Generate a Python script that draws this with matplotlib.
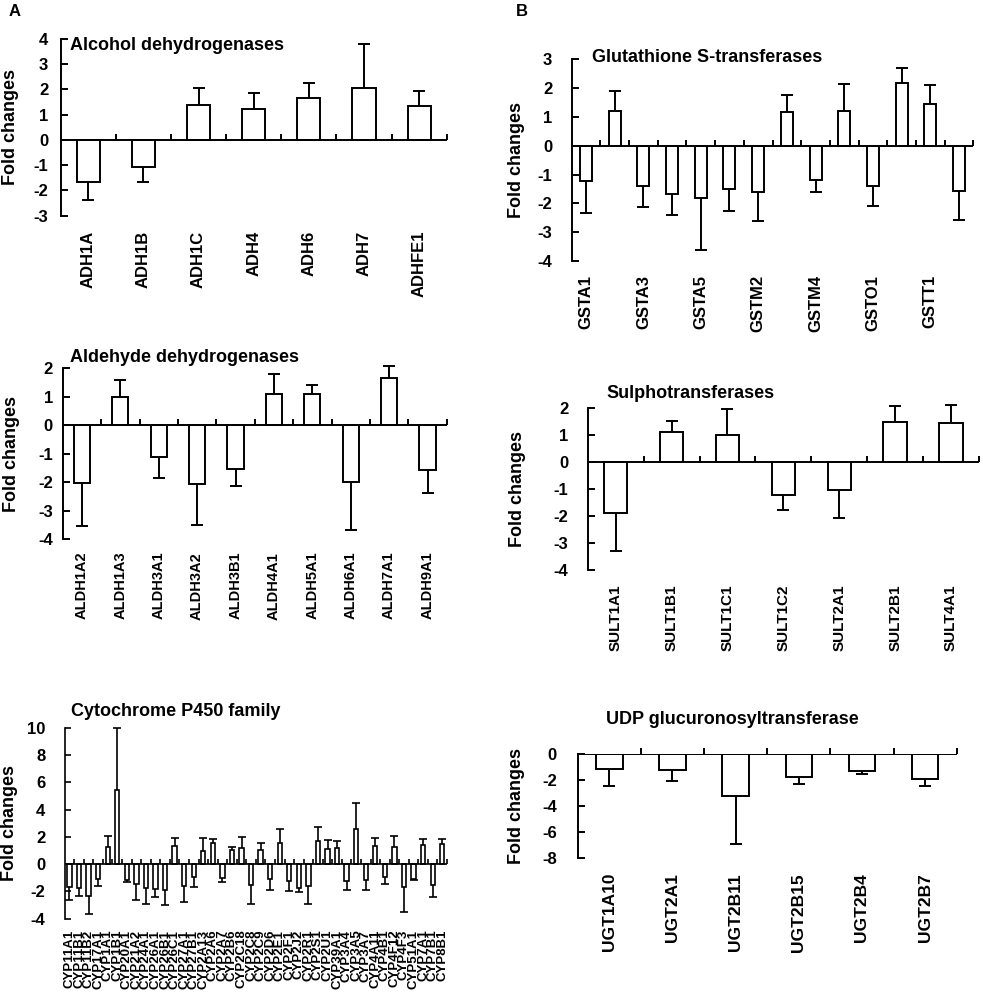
import matplotlib
matplotlib.use("Agg")
import matplotlib.pyplot as plt
import numpy as np

W, H = 983, 993

plt.rcParams["font.family"] = ["Liberation Sans", "DejaVu Sans"]
plt.rcParams["font.weight"] = "bold"

# --- A: alcohol dehydrogenases ---
ADH_GENES = ["ADH1A", "ADH1B", "ADH1C", "ADH4", "ADH6", "ADH7", "ADHFE1"]
ADH_FOLD = [-1.68, -1.08, 1.38, 1.23, 1.65, 2.06, 1.34]
ADH_SD = [0.69, 0.60, 0.68, 0.62, 0.61, 1.75, 0.59]

# --- A: aldehyde dehydrogenases ---
ALDH_GENES = ["ALDH1A2", "ALDH1A3", "ALDH3A1", "ALDH3A2", "ALDH3B1",
              "ALDH4A1", "ALDH5A1", "ALDH6A1", "ALDH7A1", "ALDH9A1"]
ALDH_FOLD = [-2.01, 1.01, -1.10, -2.06, -1.54, 1.09, 1.11, -2.00, 1.65, -1.57]
ALDH_SD = [1.51, 0.57, 0.74, 1.44, 0.60, 0.72, 0.31, 1.67, 0.43, 0.82]

# --- A: cytochrome P450 ---
CYP_GENES = ["CYP11A1", "CYP11B1", "CYP11B2", "CYP17A1", "CYP1A1", "CYP1B1",
             "CYP20A1", "CYP21A2", "CYP24A1", "CYP26A1", "CYP26B1", "CYP26C1",
             "CYP27A1", "CYP27B1", "CYP2A13", "CYP2A6", "CYP2A7", "CYP2B6",
             "CYP2C18", "CYP2C8", "CYP2C9", "CYP2D6", "CYP2E1", "CYP2F1",
             "CYP2J2", "CYP2R1", "CYP2S1", "CYP2U1", "CYP39A1", "CYP3A4",
             "CYP3A5", "CYP3A7", "CYP4A11", "CYP4B1", "CYP4F12", "CYP4F3",
             "CYP51A1", "CYP7A1", "CYP7B1", "CYP8B1"]
CYP_FOLD = [-1.71, -1.76, -2.32, -1.10, 1.29, 5.44, -1.15, -1.44, -1.76, -1.83,
            -1.88, 1.34, -1.64, -0.98, 1.00, 1.54, -1.03, 1.05, 1.22, -1.51,
            1.05, -1.10, 1.54, -1.22, -1.76, -1.59, 1.73, 1.10, 1.17, -1.27,
            2.59, -1.17, 1.34, -0.98, 1.25, -1.69, -1.10, 1.42, -1.51, 1.47]
CYP_SD = [0.90, 0.61, 1.34, 0.54, 0.76, 4.54, 0.19, 1.17, 1.17, 0.59,
          1.12, 0.59, 1.17, 0.71, 0.90, 0.32, 0.31, 0.20, 0.76, 1.42,
          0.51, 0.78, 1.07, 0.76, 0.32, 1.34, 0.98, 0.68, 0.51, 0.61,
          1.88, 0.71, 0.59, 0.49, 0.83, 1.83, 0.10, 0.44, 0.93, 0.39]

# --- B: glutathione S-transferases ---
GST_GENES = ["GSTA1", "GSTA2", "GSTA3", "GSTA4", "GSTA5", "GSTM1", "GSTM2",
             "GSTM3", "GSTM4", "GSTM5", "GSTO1", "GSTP1", "GSTT1", "GSTT2"]
GST_FOLD = [-1.24, 1.19, -1.38, -1.67, -1.82, -1.50, -1.60, 1.17, -1.18, 1.22,
            -1.38, 2.18, 1.46, -1.57]
GST_SD = [1.10, 0.72, 0.75, 0.75, 1.79, 0.76, 1.00, 0.58, 0.41, 0.91,
          0.70, 0.51, 0.65, 1.01]

# --- B: sulphotransferases ---
SULT_GENES = ["SULT1A1", "SULT1B1", "SULT1C1", "SULT1C2", "SULT2A1", "SULT2B1", "SULT4A1"]
SULT_FOLD = [-1.90, 1.10, 1.00, -1.25, -1.04, 1.47, 1.43]
SULT_SD = [1.40, 0.41, 0.94, 0.55, 1.03, 0.59, 0.67]

# --- B: UDP glucuronosyltransferase ---
UGT_GENES = ["UGT1A10", "UGT2A1", "UGT2B11", "UGT2B15", "UGT2B4", "UGT2B7"]
UGT_FOLD = [-1.18, -1.23, -3.27, -1.80, -1.29, -1.93]
UGT_SD = [1.29, 0.83, 3.70, 0.51, 0.23, 0.54]


def draw_panel(fig, box, genes, fold, sd, ylim, yticks, title, title_xy,
               ylabel_right, label_size=12, lw=1.4, capsize=4.0, bar_width=0.42,
               every=1, ypad=10, ytick_len=5, xtick_len=4.3, xpad=11):
    left, top, right, bottom = box
    ax = fig.add_axes([left / W, 1 - bottom / H, (right - left) / W, (bottom - top) / H])
    n = len(genes)
    x = np.arange(n) + 0.5
    fold = np.asarray(fold)
    sd = np.asarray(sd)

    ax.bar(x, fold, width=bar_width, color="white", edgecolor="black",
           linewidth=lw, zorder=3)

    # one-sided error bars, pointing away from zero
    pos = fold > 0
    for mask, hide in ((pos, 0), (~pos, 1)):
        if not mask.any():
            continue
        zeros = np.zeros(mask.sum())
        err = [zeros, sd[mask]] if hide == 0 else [sd[mask], zeros]
        _, caps, bars = ax.errorbar(x[mask], fold[mask], yerr=err, fmt="none",
                                    ecolor="black", elinewidth=lw, capsize=capsize,
                                    capthick=lw, zorder=2)
        caps[hide].set_visible(False)
        for c in caps:
            c.set_clip_on(False)
        for b in bars:
            b.set_clip_on(False)

    ax.axhline(0, color="black", lw=lw, zorder=4)
    ax.plot(np.arange(1, n + 1), np.zeros(n), ls="none", marker=2,
            ms=xtick_len, mew=lw, color="black", clip_on=False, zorder=4)

    ax.set_xlim(0, n)
    ax.set_ylim(*ylim)
    ax.set_yticks(yticks)
    ax.set_yticklabels([str(v) for v in yticks])
    labels = [g if i % every == 0 else "" for i, g in enumerate(genes)]
    ax.set_xticks(x)
    ax.set_xticklabels(labels, rotation=90, fontsize=label_size, fontweight="bold")
    ax.tick_params(axis="x", length=0, pad=xpad)
    ax.tick_params(axis="y", direction="in", length=ytick_len, width=lw,
                   labelsize=12, pad=ypad)
    for s in ("top", "right", "bottom"):
        ax.spines[s].set_visible(False)
    ax.spines["left"].set_linewidth(lw)

    ax.set_ylabel("Fold changes", fontsize=13, fontweight="bold")
    ax.yaxis.set_label_coords((ylabel_right - left) / (right - left), 0.5)

    fig.text(title_xy[0] / W, 1 - title_xy[1] / H, title, fontsize=13,
             fontweight="bold", ha="left", va="center")
    return ax


fig = plt.figure(figsize=(W / 100, H / 100), dpi=100, facecolor="white")

draw_panel(fig, (60.7, 39, 446.7, 215.7), ADH_GENES, ADH_FOLD, ADH_SD,
           (-3, 4), list(range(-3, 5)), "Alcohol dehydrogenases", (70, 45),
           ylabel_right=19, ypad=9)

draw_panel(fig, (62.7, 368.3, 446.7, 539.3), ALDH_GENES, ALDH_FOLD, ALDH_SD,
           (-4, 2), list(range(-4, 3)), "Aldehyde dehydrogenases", (70, 358),
           ylabel_right=20, ypad=7, label_size=10.5, xpad=9)

draw_panel(fig, (64.7, 728, 447, 918.6), CYP_GENES, CYP_FOLD, CYP_SD,
           (-4, 10), list(range(-4, 11, 2)), "Cytochrome P450 family", (70.7, 712),
           ylabel_right=18, label_size=9.5, lw=1.2, capsize=2.6, bar_width=0.45,
           ypad=14, ytick_len=4, xtick_len=3.6, xpad=8)

draw_panel(fig, (571.7, 59.3, 973.3, 261), GST_GENES, GST_FOLD, GST_SD,
           (-4, 3), list(range(-4, 4)), "Glutathione S-transferases", (591.7, 57),
           ylabel_right=525, every=2, ypad=14, xpad=10)

draw_panel(fig, (587.7, 407.7, 979, 569.7), SULT_GENES, SULT_FOLD, SULT_SD,
           (-4, 2), list(range(-4, 3)), "Sulphotransferases", (606, 394),
           ylabel_right=526, ypad=14, label_size=11)

draw_panel(fig, (577.7, 754, 956.7, 857.7), UGT_GENES, UGT_FOLD, UGT_SD,
           (-8, 0), list(range(-8, 1, 2)), "UDP glucuronosyltransferase", (606, 719),
           ylabel_right=525, ypad=15, label_size=12.5)

fig.text(15 / W, 1 - 12 / H, "A", fontsize=12, fontweight="bold", ha="center", va="center")
fig.text(522 / W, 1 - 11 / H, "B", fontsize=12, fontweight="bold", ha="center", va="center")

fig.savefig("out.png", dpi=100, facecolor="white")
